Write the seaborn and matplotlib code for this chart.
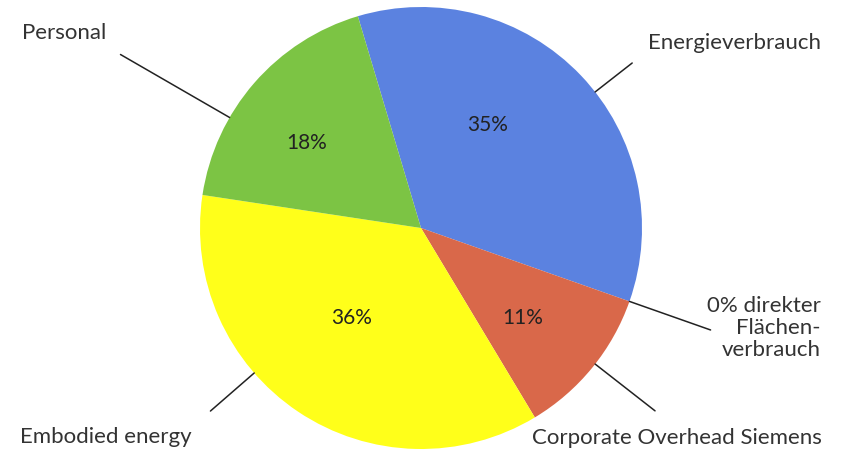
import numpy as np
import matplotlib
matplotlib.use("Agg")
import matplotlib.pyplot as plt
import seaborn as sns

# data (clockwise from top)
categories = ["Energieverbrauch", "0% direkter\nFlächen-\nverbrauch",
              "Corporate Overhead Siemens", "Embodied energy", "Personal"]
shares = [35, 0, 11, 36, 18]
colors = ["#5b82e0", "#8a8a8a", "#d9684a", "#ffff1a", "#7cc444"]

# layout
W, H = 842, 455
CX, CY, R = 421, 227, 221
START = 106.6
leader_angles = [38, -19.4, -38, -139, 150]
leader_len = [47, 86, 76, 58, 126]
label_pos = [(648, 412), (821, 127), (532, 17), (20, 18), (22, 422)]
label_ha = ["left", "right", "left", "left", "left"]
pct_pos = [(488, 330), None, (523, 137), (352, 137), (307, 312)]

sns.set_style("white")
plt.rcParams["font.family"] = ["Lato", "DejaVu Sans"]

fig = plt.figure(figsize=(W / 100, H / 100), dpi=100)
ax = fig.add_axes([0, 0, 1, 1])

wedges, _ = ax.pie(shares, colors=colors, startangle=START, counterclock=False,
                   center=(CX, CY), radius=R, wedgeprops=dict(linewidth=0),
                   frame=True)
ax.set_xlim(0, W)
ax.set_ylim(0, H)
ax.set_aspect("equal")
ax.axis("off")

for name, val, ang, ln, pos, ha, pp in zip(categories, shares, leader_angles,
                                            leader_len, label_pos, label_ha, pct_pos):
    a = np.deg2rad(ang)
    x0, y0 = CX + R * np.cos(a), CY + R * np.sin(a)
    x1, y1 = CX + (R + ln) * np.cos(a), CY + (R + ln) * np.sin(a)
    ax.plot([x0, x1], [y0, y1], color="#222222", lw=1.1)
    ax.text(pos[0], pos[1], name, ha=ha, va="center", fontsize=16,
            color="#333333", linespacing=1.15)
    if pp is not None:
        ax.text(pp[0], pp[1], f"{val}%", ha="center", va="center",
                fontsize=15, color="#222222")

fig.savefig("out.png", dpi=100, facecolor="white")
